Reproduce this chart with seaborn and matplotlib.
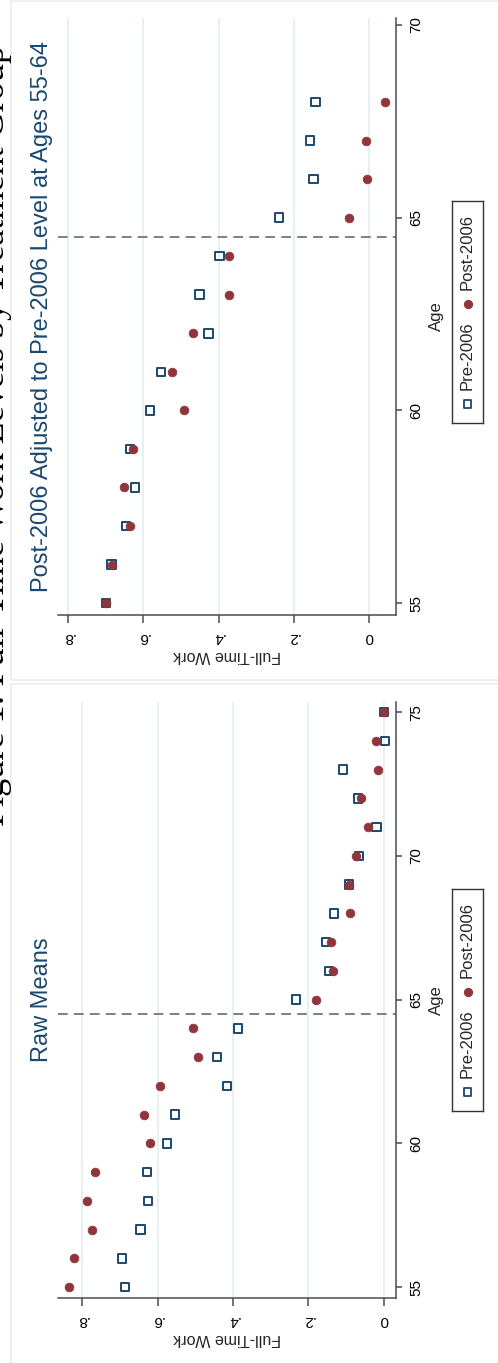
import matplotlib
matplotlib.use("Agg")
import matplotlib.pyplot as plt
import numpy as np
import pandas as pd
import seaborn as sns
from matplotlib.patches import Rectangle

# ---------------- data ----------------
ages_adj = [55, 56, 57, 58, 59, 60, 61, 62, 63, 64, 65, 66, 67, 68]
pre_adj = [0.699, 0.684, 0.646, 0.622, 0.636, 0.582, 0.553, 0.427, 0.451, 0.397,
           0.239, 0.148, 0.157, 0.142]
post_adj = [0.699, 0.684, 0.636, 0.651, 0.628, 0.491, 0.524, 0.469, 0.373, 0.373,
            0.053, 0.005, 0.007, -0.042]

ages_raw = [55, 56, 57, 58, 59, 60, 61, 62, 63, 64, 65, 66, 67, 68, 69, 70, 71, 72, 73, 74, 75]
pre_raw = [0.686, 0.694, 0.646, 0.625, 0.628, 0.575, 0.554, 0.416, 0.442, 0.387,
           0.233, 0.146, 0.154, 0.132, 0.093, 0.066, 0.019, 0.069, 0.109, -0.003, 0.0]
post_raw = [0.834, 0.821, 0.774, 0.787, 0.766, 0.620, 0.636, 0.593, 0.493, 0.506,
            0.180, 0.135, 0.140, 0.090, 0.093, 0.074, 0.042, 0.061, 0.016, 0.021, 0.0]

ft_ticks = [0, 0.2, 0.4, 0.6, 0.8]
ft_labels = ["0", ".2", ".4", ".6", ".8"]
age_ticks_adj = [55, 60, 65, 70]
age_ticks_raw = [55, 60, 65, 70, 75]
cutoff_age = 64.5

series_names = ["Pre-2006", "Post-2006"]
title_adj = "Post-2006 Adjusted to Pre-2006 Level at Ages 55-64"
title_raw = "Raw Means"
fig_title = "Figure 1: Full-Time Work Levels by Treatment Group"

# ---------------- style ----------------
sns.set_style("white")
plt.rcParams["font.family"] = ["Liberation Sans", "DejaVu Sans"]

NAVY = "#1a476f"
MAROON = "#90353b"
AXC = "#4d4d4d"
GRID = "#e3ecef"
BORDER = "#e6edf1"

W, H = 498, 1363
fig = plt.figure(figsize=(W / 100, H / 100), dpi=100)


def fbox(x0, y0, x1, y1):
    return [x0 / W, 1 - y1 / H, (x1 - x0) / W, (y1 - y0) / H]


# panel borders
fig.add_artist(Rectangle((11 / W, 1 - 680 / H), (W - 5) / W, 679 / H,
                         transform=fig.transFigure, fill=False, ec=BORDER, lw=1.2))
fig.add_artist(Rectangle((11 / W, -0.01), (W - 5) / W, (H - 684) / H + 0.01,
                         transform=fig.transFigure, fill=False, ec=BORDER, lw=1.2))

# figure title along the left edge (cropped in the source page)
fig.text(12 / W, 1 - 435 / H, fig_title, rotation=90, ha="right", va="center",
         family=["Liberation Serif", "DejaVu Serif"], fontsize=26, color="black")


def panel(rect, ages, pre, post, xlim, ylim, age_ticks, title, legrect):
    ax = fig.add_axes(fbox(*rect))
    df = pd.DataFrame({
        "Age": list(ages) * 2,
        "FT": list(pre) + list(post),
        "Group": [series_names[0]] * len(ages) + [series_names[1]] * len(ages),
    })
    sns.scatterplot(data=df[df.Group == series_names[0]], x="FT", y="Age", marker="s",
                    s=38, facecolor="none", edgecolor=NAVY, linewidth=1.4,
                    ax=ax, legend=False, zorder=3)
    sns.scatterplot(data=df[df.Group == series_names[1]], x="FT", y="Age", marker="o",
                    s=40, color=MAROON, edgecolor=MAROON, linewidth=0.5,
                    ax=ax, legend=False, zorder=4)
    ax.axhline(cutoff_age, color="#7f7f7f", lw=1.4, ls=(0, (5, 3.2)), zorder=2)

    ax.set_xlim(*xlim)
    ax.set_ylim(*ylim)
    ax.set_xticks(ft_ticks)
    ax.set_xticklabels(ft_labels, rotation=180)
    ax.yaxis.tick_right()
    ax.yaxis.set_label_position("right")
    ax.set_yticks(age_ticks)
    ax.set_yticklabels([str(a) for a in age_ticks], rotation=90, va="center")
    for sp in ["top", "left"]:
        ax.spines[sp].set_visible(False)
    for sp in ["bottom", "right"]:
        ax.spines[sp].set_color(AXC)
        ax.spines[sp].set_linewidth(1.1)
    ax.tick_params(axis="x", bottom=True, direction="out", length=5.5, width=1.1,
                   color=AXC, labelsize=11, pad=5, labelcolor="black")
    ax.tick_params(axis="y", right=True, left=False, direction="out", length=4.5,
                   width=1.1, color=AXC, labelsize=11, pad=5, labelcolor="black")
    ax.grid(axis="x", color=GRID, lw=1.1)
    ax.grid(axis="y", visible=False)
    ax.set_axisbelow(True)
    ax.set_xlabel("Full-Time Work", rotation=180, fontsize=11.5, labelpad=3)
    ax.set_ylabel("Age", rotation=90, fontsize=12, labelpad=4)

    # panel title, rotated, centred on the plot region
    ymid = 1 - ((rect[1] + rect[3]) / 2) / H
    fig.text(42 / W, ymid, title, rotation=90, ha="center", va="center",
             fontsize=17, color=NAVY)

    # legend box (rotated layout)
    lax = fig.add_axes(fbox(*legrect))
    lax.set_xlim(0, 1)
    lax.set_ylim(0, 1)
    lax.set_xticks([])
    lax.set_yticks([])
    for sp in lax.spines.values():
        sp.set_color("#333333")
        sp.set_linewidth(1.0)
    lax.scatter([0.5], [0.085], marker="s", s=30, facecolor="none", edgecolor=NAVY,
                linewidth=1.3, transform=lax.transAxes)
    lax.text(0.5, 0.15, series_names[0], rotation=90, ha="center", va="bottom",
             fontsize=12, transform=lax.transAxes)
    lax.scatter([0.5], [0.535], marker="o", s=32, color=MAROON,
                transform=lax.transAxes)
    lax.text(0.5, 0.6, series_names[1], rotation=90, ha="center", va="bottom",
             fontsize=12, transform=lax.transAxes)
    return ax


panel((58, 18, 396, 615), ages_adj, pre_adj, post_adj, (0.827, -0.072), (54.69, 70.18),
      age_ticks_adj, title_adj, (452, 201, 483, 423))
panel((58, 702, 396, 1298), ages_raw, pre_raw, post_raw, (0.864, -0.032), (54.62, 75.35),
      age_ticks_raw, title_raw, (452, 889, 483, 1111))

fig.savefig("out.png", dpi=100, facecolor="white")
